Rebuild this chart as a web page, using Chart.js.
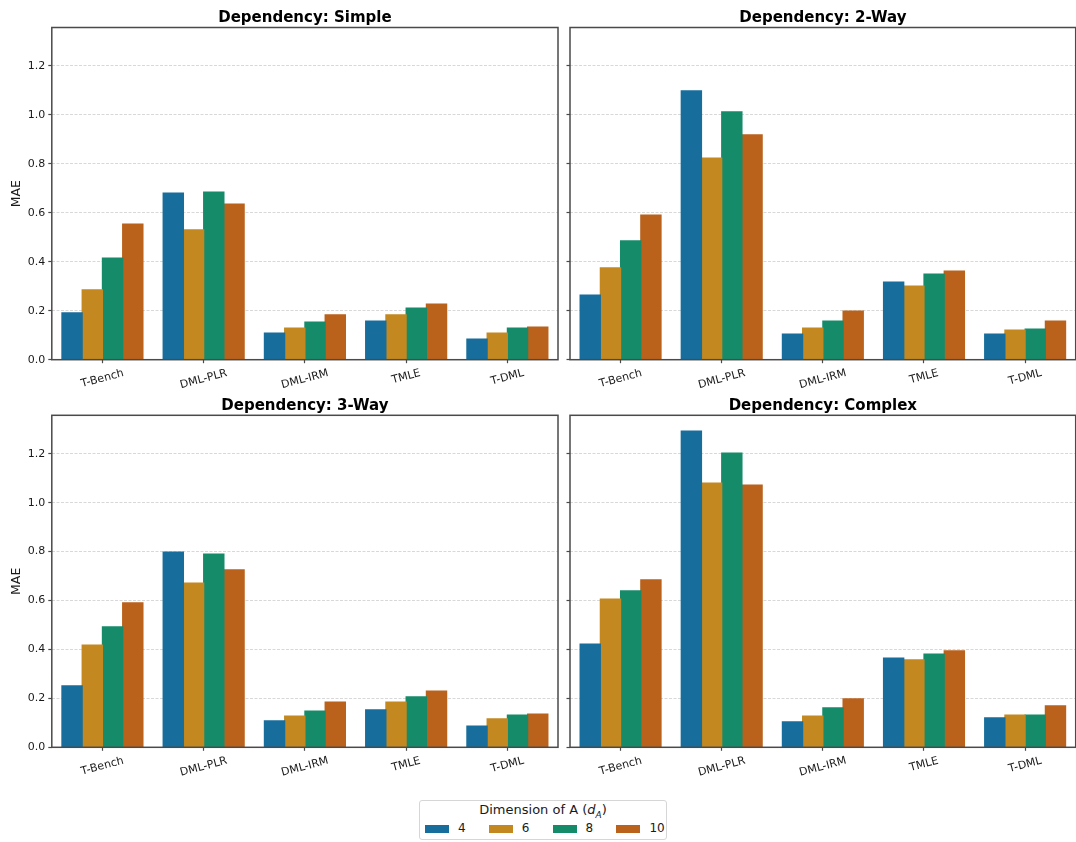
<!DOCTYPE html>
<html>
<head>
<meta charset="utf-8">
<script src="https://cdn.jsdelivr.net/npm/chart.js@4.4.0/dist/chart.umd.min.js"></script>
<style>
  body { margin: 0; background: #fff; font-family: 'DejaVu Sans', sans-serif; }
  #fig { position: relative; width: 1076px; height: 842px; overflow: hidden; background: #fff; }
  #fig canvas { position: absolute; }
  #legend {
    position: absolute; left: 419px; top: 800px; width: 246px; height: 38px;
    border: 1px solid #d6d6d6; border-radius: 3px; background: #fff; color: #1a1a1a;
  }
  #legend .ttl { position: absolute; left: 0; right: 0; top: 1px; text-align: center; font-size: 13px; }
  #legend .item { position: absolute; top: 23px; height: 10px; }
  #legend .sw { position: absolute; left: 0; top: 1px; width: 24px; height: 8px; }
  #legend .lab { position: absolute; left: 33px; top: -3px; font-size: 12px; white-space: nowrap; }
</style>
</head>
<body>
<div id="fig">
  <canvas id="chartSimple" width="560" height="400" style="left:0;top:0"></canvas>
  <canvas id="chart2Way" width="516" height="400" style="left:560px;top:0"></canvas>
  <canvas id="chart3Way" width="560" height="400" style="left:0;top:390px"></canvas>
  <canvas id="chartComplex" width="516" height="400" style="left:560px;top:390px"></canvas>
  <div id="legend"><div class="ttl">Dimension of A (<i>d</i><sub style="font-size:9px"><i>A</i></sub>)</div></div>
</div>
<script>
// Categories and series
const methods = ['T-Bench', 'DML-PLR', 'DML-IRM', 'TMLE', 'T-DML'];
const dims = ['4', '6', '8', '10'];
const barColors = ['#176d9c', '#c38820', '#168b6a', '#ba611b'];

// MAE values, one array per dimension of A
const simpleD4 = [0.191, 0.681, 0.109, 0.158, 0.084];
const simpleD6 = [0.285, 0.530, 0.129, 0.183, 0.109];
const simpleD8 = [0.415, 0.685, 0.154, 0.211, 0.129];
const simpleD10 = [0.554, 0.636, 0.183, 0.227, 0.133];

const twoWayD4 = [0.264, 1.098, 0.105, 0.317, 0.105];
const twoWayD6 = [0.375, 0.824, 0.129, 0.301, 0.121];
const twoWayD8 = [0.485, 1.012, 0.158, 0.350, 0.125];
const twoWayD10 = [0.591, 0.918, 0.199, 0.362, 0.158];

const threeWayD4 = [0.251, 0.798, 0.108, 0.153, 0.087];
const threeWayD6 = [0.418, 0.671, 0.128, 0.185, 0.116];
const threeWayD8 = [0.492, 0.790, 0.148, 0.206, 0.132];
const threeWayD10 = [0.590, 0.725, 0.185, 0.230, 0.136];

const complexD4 = [0.422, 1.292, 0.104, 0.365, 0.120];
const complexD6 = [0.606, 1.080, 0.128, 0.357, 0.132];
const complexD8 = [0.639, 1.202, 0.161, 0.381, 0.132];
const complexD10 = [0.684, 1.072, 0.198, 0.394, 0.169];

// Shared y axis
const yMax = 1.357;
const yStep = 0.2;

const FONT = "'DejaVu Sans', sans-serif";
const TEXT = '#1a1a1a';
const SPINE = '#4a4a4a';

// Box around the plot area (matplotlib spines)
const spinePlugin = {
  id: 'spines',
  afterDatasetsDraw(chart) {
    const { ctx, chartArea: a } = chart;
    ctx.save();
    ctx.strokeStyle = SPINE;
    ctx.lineWidth = 1.5;
    ctx.strokeRect(a.left, a.top, a.right - a.left, a.bottom - a.top);
    ctx.restore();
  }
};

// Rotated x labels centred on their tick (Chart.js right-aligns rotated labels)
const xLabelPlugin = {
  id: 'xLabels',
  afterDraw(chart) {
    const { ctx, chartArea } = chart;
    const x = chart.scales.x;
    const ang = 15 * Math.PI / 180;
    ctx.save();
    ctx.font = '11px ' + FONT;
    ctx.fillStyle = TEXT;
    ctx.textAlign = 'center';
    ctx.textBaseline = 'middle';
    methods.forEach((m, i) => {
      const px = x.getPixelForValue(i);
      const w = ctx.measureText(m).width;
      const h = w * Math.sin(ang) + 11 * Math.cos(ang);
      const cy = chartArea.bottom + 3.5 + 4.5 + h / 2;
      ctx.save();
      ctx.translate(px, cy);
      ctx.rotate(-ang);
      ctx.fillText(m, 0, 0);
      ctx.restore();
    });
    ctx.restore();
  }
};

function makePanel(id, title, series, p) {
  return new Chart(document.getElementById(id), {
    type: 'bar',
    data: {
      labels: methods,
      datasets: series.map((vals, i) => ({
        label: dims[i],
        data: vals,
        backgroundColor: barColors[i],
        borderWidth: 0,
        inflateAmount: 0.6,
        categoryPercentage: 0.8,
        barPercentage: 1.0
      }))
    },
    options: {
      responsive: false,
      animation: false,
      devicePixelRatio: 1,
      layout: { padding: { left: 0, right: p.padRight, top: 0, bottom: 0 } },
      plugins: {
        legend: { display: false },
        tooltip: { enabled: false },
        title: {
          display: true,
          fullSize: false,
          text: title,
          color: '#000',
          font: { family: FONT, size: 15, weight: 'bold', lineHeight: 1.2 },
          padding: { top: p.titleTop, bottom: p.titleBottom }
        }
      },
      scales: {
        x: {
          grid: { display: true, offset: false, drawOnChartArea: false, drawTicks: true, tickLength: 3.5, tickColor: SPINE, tickWidth: 1.2 },
          border: { display: false },
          ticks: { display: false },
          afterFit: s => { s.height = p.xAxisH; }
        },
        y: {
          min: 0,
          max: yMax,
          ticks: {
            stepSize: yStep,
            includeBounds: false,
            display: p.showY,
            color: TEXT,
            padding: 3,
            font: { family: FONT, size: 11 },
            callback: v => v.toFixed(1)
          },
          grid: { color: '#d4d4d4', lineWidth: 0.9, drawTicks: true, tickLength: 3.5, tickColor: SPINE, tickWidth: 1.2, tickBorderDash: [] },
          border: { display: false, dash: [3, 1.5] },
          title: {
            display: p.showY,
            text: 'MAE',
            color: TEXT,
            font: { family: FONT, size: 12.5 },
            padding: { top: 9, bottom: 0 }
          },
          afterFit: s => { s.width = p.yAxisW; }
        }
      }
    },
    plugins: [spinePlugin, xLabelPlugin]
  });
}

const leftPanel = { showY: true, yAxisW: 51.8, padRight: 2 };
const rightPanel = { showY: false, yAxisW: 10, padRight: 0.3 };
const topRow = { titleTop: 9.3, titleBottom: 0.2, xAxisH: 40.3 };
const bottomRow = { titleTop: 7, titleBottom: 0.3, xAxisH: 42.7 };

makePanel('chartSimple', 'Dependency: Simple', [simpleD4, simpleD6, simpleD8, simpleD10], { ...leftPanel, ...topRow });
makePanel('chart2Way', 'Dependency: 2-Way', [twoWayD4, twoWayD6, twoWayD8, twoWayD10], { ...rightPanel, ...topRow });
makePanel('chart3Way', 'Dependency: 3-Way', [threeWayD4, threeWayD6, threeWayD8, threeWayD10], { ...leftPanel, ...bottomRow });
makePanel('chartComplex', 'Dependency: Complex', [complexD4, complexD6, complexD8, complexD10], { ...rightPanel, ...bottomRow });

// Legend built from the series names and colours
const legend = document.getElementById('legend');
dims.forEach((d, i) => {
  const item = document.createElement('div');
  item.className = 'item';
  item.style.left = (5 + i * 63.8) + 'px';
  item.innerHTML = `<div class="sw" style="background:${barColors[i]}"></div><div class="lab">${d}</div>`;
  legend.appendChild(item);
});
</script>
</body>
</html>
